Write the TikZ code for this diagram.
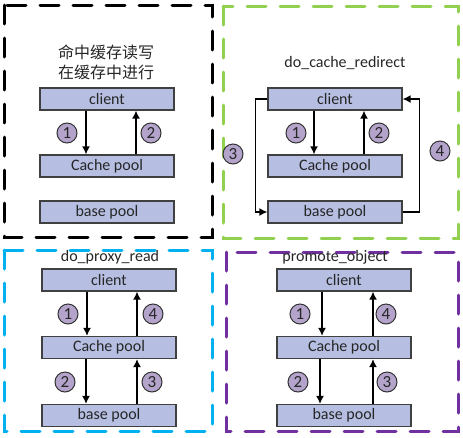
\documentclass[tikz,border=0pt]{standalone}
\usepackage{fontspec}
\setmainfont{Carlito}
\newfontfamily\cjk{Noto Sans CJK SC}
\usetikzlibrary{arrows.meta}
\definecolor{poolfill}{RGB}{182,191,226}
\definecolor{numfill}{RGB}{180,164,204}
\definecolor{edge}{RGB}{64,64,64}
\definecolor{fgreen}{RGB}{146,208,80}
\definecolor{fblue}{RGB}{0,176,240}
\definecolor{fpurple}{RGB}{112,48,160}

\begin{document}
\begin{tikzpicture}
  [x=1pt,y=-1pt,
   every node/.style={font=\fontsize{16}{20}\selectfont,text=black!85},
   pool/.style={draw=edge,line width=1.2pt,fill=poolfill,minimum width=134pt,minimum height=22pt,inner sep=0pt},
   num/.style={circle,draw=edge!80!black,line width=1pt,fill=numfill,minimum size=20pt,inner sep=0pt,font=\fontsize{17}{17}\selectfont},
   frame/.style={line width=3pt,dash pattern=on 19pt off 14pt,line cap=round},
   flow/.style={line width=1.5pt,-{Latex[length=8pt,width=8pt]}}]
  \useasboundingbox (0,0) rectangle (463,437);

  % frames
  \draw[frame,black]   (4,5)    rectangle (212,237);
  \draw[frame,fgreen]  (223,6)  rectangle (458,238);
  \draw[frame,fblue]   (4,250)  rectangle (212,431);
  \draw[frame,fpurple] (226,252) rectangle (458,431);

  % hit in cache
  \node[align=center] (t1) at (106,62) {\cjk 命中缓存读写\\\cjk 在缓存中进行};
  \node[pool] (c1) at (107,99)  {client};
  \node[pool] (p1) at (107,166) {Cache pool};
  \node[pool] (b1) at (107,212) {base pool};
  \node[num] (n11) at (67,133)  {1};
  \node[num] (n12) at (151,133) {2};

  % do_cache_redirect
  \node (t2) at (345,63) {do\_cache\_redirect};
  \node[pool] (c2) at (335,99)  {client};
  \node[pool] (p2) at (335,166) {Cache pool};
  \node[pool] (b2) at (335,212) {base pool};
  \node[num] (n21) at (296,133) {1};
  \node[num] (n22) at (379,133) {2};
  \node[num] (n23) at (233,154) {3};
  \node[num] (n24) at (440,151) {4};

  % do_proxy_read
  \node (t3) at (110,257) {do\_proxy\_read};
  \node[pool] (c3) at (109,280)   {client};
  \node[pool] (p3) at (109,347.5) {Cache pool};
  \node[pool] (b3) at (109,415.5) {base pool};
  \node[num] (n31) at (68,314)  {1};
  \node[num] (n34) at (153,314) {4};
  \node[num] (n32) at (65,382)  {2};
  \node[num] (n33) at (152,382) {3};

  % promote_object
  \node (t4) at (335,257) {promote\_object};
  \node[pool] (c4) at (344,280)   {client};
  \node[pool] (p4) at (344,347.5) {Cache pool};
  \node[pool] (b4) at (344,415.5) {base pool};
  \node[num] (n41) at (300,314) {1};
  \node[num] (n44) at (386,314) {4};
  \node[num] (n42) at (298,382) {2};
  \node[num] (n43) at (387,382) {3};

  \foreach \a/\b/\dx in {c1.south/p1.north/-21,p1.north/c1.south/29,
                         c2.south/p2.north/-21,p2.north/c2.south/29,
                         c3.south/p3.north/-22,p3.north/c3.south/28,
                         p3.south/b3.north/-23,b3.north/p3.south/28,
                         c4.south/p4.north/-22,p4.north/c4.south/29,
                         p4.south/b4.north/-24,b4.north/p4.south/29}
    \draw[flow] ([xshift=\dx pt]\a) -- ([xshift=\dx pt]\b);

  \draw[flow] (c2.west) -- ++(-12,0) |- (b2.west);
  \draw[flow] (b2.east) -- ++(17,0) |- (c2.east);
\end{tikzpicture}
\end{document}
